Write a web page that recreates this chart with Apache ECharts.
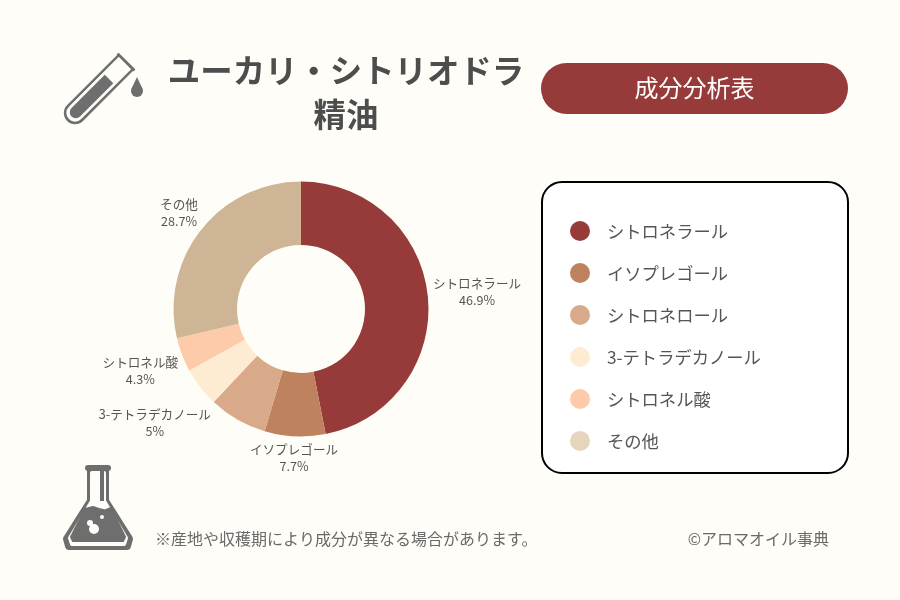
<!DOCTYPE html>
<html>
<head>
<meta charset="utf-8">
<title>ユーカリ・シトリオドラ精油</title>
<style>
html,body{margin:0;padding:0;background:#fffdf7;}
#main{width:900px;height:600px;}
</style>
<script src="https://cdn.jsdelivr.net/npm/echarts@6/dist/echarts.min.js"></script>
</head>
<body>
<div id="main"></div>
<script>
// 成分データ
var categories = ['シトロネラール', 'イソプレゴール', 'シトロネロール', '3-テトラデカノール', 'シトロネル酸', 'その他'];
var percents = [46.9, 7.7, 7.4, 5, 4.3, 28.7];
var sliceColors = ['#963a3a', '#bf825f', '#d9aa8a', '#fdebd2', '#fdcbaa', '#cdb595'];
var legendColors = ['#963a3a', '#bf825f', '#d9aa8a', '#fdebd2', '#fdcbaa', '#e6d5bd'];
// 円グラフにラベルが付いていない成分
var unlabeled = ['シトロネロール'];

var FONT = '"Noto Sans CJK JP", sans-serif';
var GRAY = '#6e6e6e';
var TEXT = '#555555';
var BG = '#fffdf7';
var CX = 301, CY = 309, R_IN = 64, R_OUT = 127.5;

var myChart = echarts.init(document.getElementById('main'));

function text(x, y, str, size, color, weight, align) {
    return {
        type: 'text', x: x, y: y, z: 5,
        style: {
            text: str, fontFamily: FONT, fontSize: size, fill: color,
            fontWeight: weight || 'normal', align: align || 'center', verticalAlign: 'middle'
        }
    };
}

// 扇形の中心角（12時から時計回り、ラジアン）
function midAngle(index) {
    var total = percents.reduce(function (a, b) { return a + b; }, 0);
    var before = percents.slice(0, index).reduce(function (a, b) { return a + b; }, 0);
    return (before + percents[index] / 2) / total * Math.PI * 2;
}

var option = {
    backgroundColor: BG,
    animation: false,
    textStyle: { fontFamily: FONT },
    legend: {
        orient: 'vertical',
        left: 570,
        top: 221,
        padding: 0,
        itemWidth: 20,
        itemHeight: 20,
        itemGap: 22,
        icon: 'circle',
        selectedMode: false,
        z: 6,
        textStyle: { fontFamily: FONT, fontSize: 17.3, color: TEXT, padding: [0, 0, 0, 12] },
        data: categories.map(function (name, i) {
            return { name: name, itemStyle: { color: legendColors[i] } };
        })
    },
    graphic: [
        // 凡例の枠
        { type: 'rect', z: 1, shape: { x: 542, y: 182, width: 306, height: 291, r: 20 },
          style: { fill: '#ffffff', stroke: '#000000', lineWidth: 2 } },
        // 見出し
        text(346, 71, 'ユーカリ・シトリオドラ', 32.4, '#4d4d4d', 'bold'),
        text(346, 115, '精油', 32.4, '#4d4d4d', 'bold'),
        { type: 'rect', z: 1, shape: { x: 541, y: 63, width: 307, height: 51, r: 25.5 },
          style: { fill: '#963a3a' } },
        text(694.5, 88, '成分分析表', 24, '#ffffff'),
        text(155, 539, '※産地や収穫期により成分が異なる場合があります。', 16, '#6a6a6a', 'normal', 'left'),
        text(829, 539, '©アロマオイル事典', 16, '#6a6a6a', 'normal', 'right'),
        // 試験管
        { type: 'group', x: 68, y: 120, rotation: Math.PI / 4, children: [
            { type: 'rect', shape: { x: 0, y: -10, width: 82, height: 20, r: [10, 0, 0, 10] },
              style: { fill: 'none', stroke: GRAY, lineWidth: 2.5 } },
            { type: 'line', shape: { x1: 82, y1: -12, x2: 82, y2: 12 },
              style: { stroke: GRAY, lineWidth: 2.5 } },
            { type: 'rect', shape: { x: 5, y: -6, width: 53, height: 12, r: [6, 0, 0, 6] },
              style: { fill: GRAY } }
        ] },
        // しずく
        { type: 'polygon', shape: { points: [[137, 77], [131.4, 89], [142.6, 89]] }, style: { fill: GRAY } },
        { type: 'circle', shape: { cx: 137, cy: 91, r: 6 }, style: { fill: GRAY } },
        // フラスコ
        { type: 'group', x: 63, y: 465, children: [
            { type: 'rect', shape: { x: 22, y: 0, width: 26, height: 6, r: 3 }, style: { fill: GRAY } },
            { type: 'polygon', shape: { points: [[28, 4], [42, 4], [42, 36], [66, 74], [64, 81], [6, 81], [4, 74], [28, 36]] },
              style: { fill: GRAY, stroke: GRAY, lineWidth: 8, lineJoin: 'round' } },
            { type: 'polygon', shape: { points: [[29, 8], [41, 8], [41, 36], [63, 73], [61, 79], [9, 79], [7, 73], [29, 36]] },
              style: { fill: BG, stroke: BG, lineWidth: 4, lineJoin: 'round' } },
            { type: 'rect', shape: { x: 37, y: 6, width: 4, height: 30 }, style: { fill: GRAY } },
            { type: 'polygon', shape: { points: [[22, 44], [30, 42], [36, 44], [42, 45.5], [48, 43], [62, 72], [60, 76], [10, 76], [8, 72]] },
              style: { fill: GRAY, stroke: GRAY, lineWidth: 2, lineJoin: 'round' } },
            { type: 'circle', shape: { cx: 27, cy: 58, r: 3 }, style: { fill: BG } },
            { type: 'circle', shape: { cx: 31, cy: 64, r: 5 }, style: { fill: BG } },
            { type: 'circle', shape: { cx: 39, cy: 52, r: 2 }, style: { fill: BG } }
        ] }
    ],
    series: [
        {
            type: 'pie',
            center: [CX, CY],
            radius: [R_IN, R_OUT],
            startAngle: 90,
            silent: true,
            label: {
                show: true,
                position: 'outside',
                fontFamily: FONT,
                fontSize: 12.6,
                lineHeight: 17,
                color: TEXT,
                formatter: function (p) { return p.name + '\n' + p.value + '%'; }
            },
            labelLine: { show: false },
            // ラベルの中心を扇形の中心角の方向に置く
            labelLayout: function (p) {
                var a = midAngle(p.dataIndex);
                var s = Math.sin(a), c = Math.cos(a);
                var r = R_OUT + 4 + Math.abs(s) * p.labelRect.width / 2 + Math.abs(c) * p.labelRect.height * 0.44;
                return {
                    x: CX + s * r,
                    y: CY - c * r,
                    align: 'center',
                    verticalAlign: 'middle'
                };
            },
            data: categories.map(function (name, i) {
                return {
                    name: name,
                    value: percents[i],
                    itemStyle: { color: sliceColors[i] },
                    label: { show: unlabeled.indexOf(name) < 0 }
                };
            })
        }
    ]
};

myChart.setOption(option);
</script>
</body>
</html>
